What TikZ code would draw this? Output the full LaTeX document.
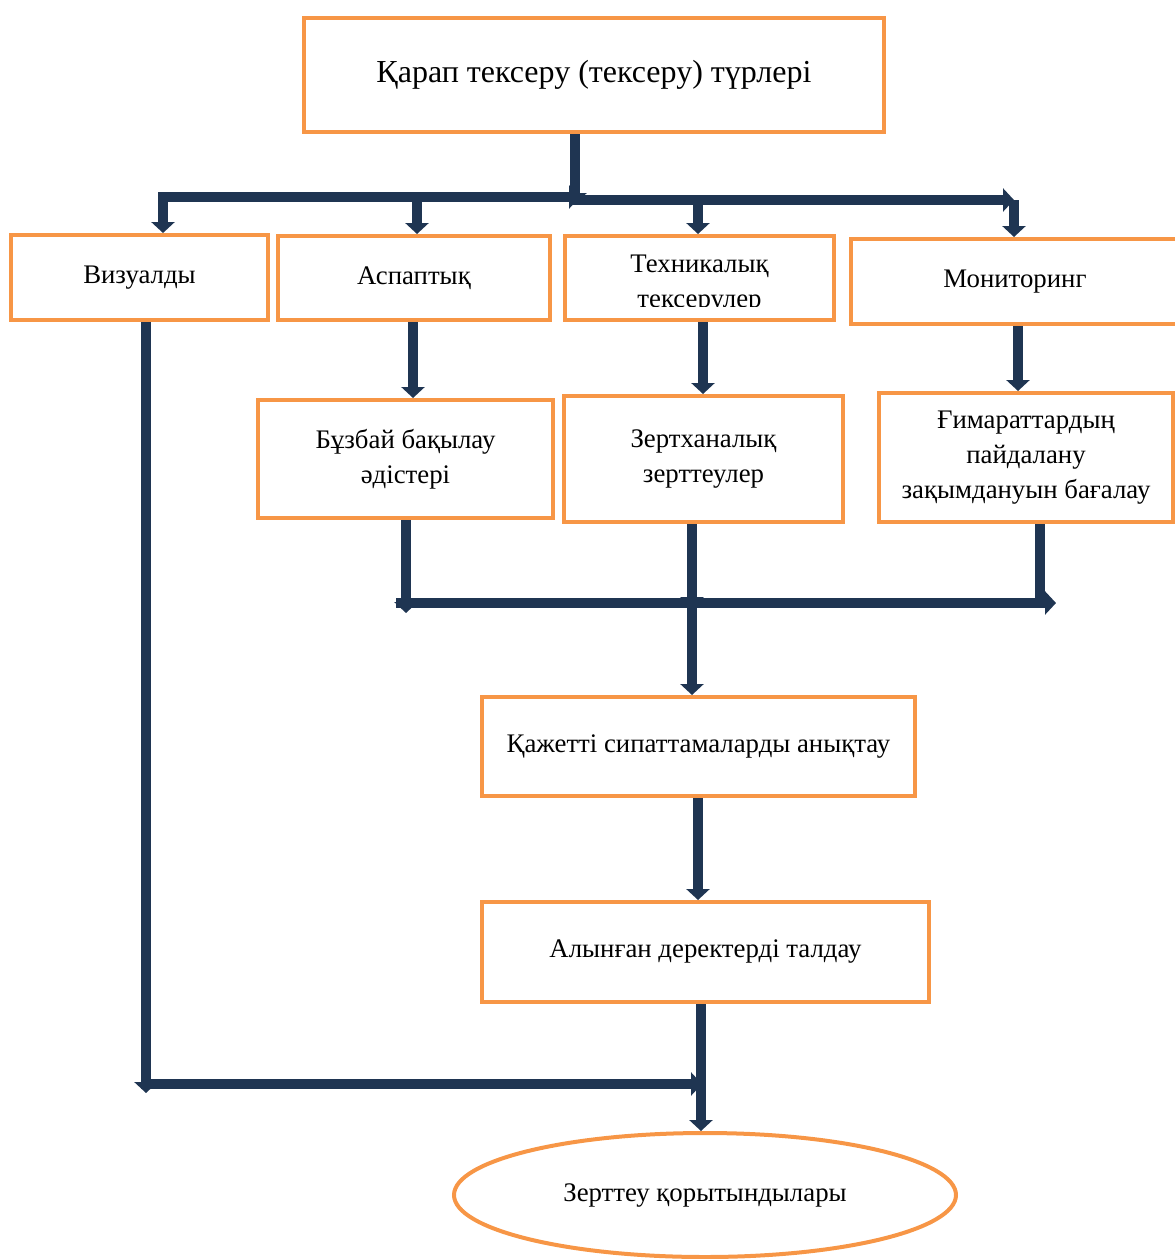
\documentclass[tikz,border=0pt]{standalone}
\usepackage{fontspec}
\setmainfont{Liberation Serif}
\usetikzlibrary{arrows.meta,shapes.geometric,calc}
\definecolor{boxorange}{RGB}{247,150,70}
\definecolor{linkblue}{RGB}{31,53,82}
\tikzset{box/.style = {draw=boxorange, line width=4pt, inner sep=0pt, align=center,
                       font=\fontsize{26.8}{35}\selectfont},
         link/.style = {draw=linkblue, line width=10pt,
                        -{Triangle[width=23pt,length=11pt]}},
         bar/.style = {draw=linkblue, line width=10pt}}

\begin{document}
\begin{tikzpicture}[x=1pt,y=-1pt]
\useasboundingbox (0,0) rectangle (1175,1259);
% boxes
\node[box, minimum width=580pt, minimum height=114pt, font=\fontsize{32}{38}\selectfont] (top) at (594,75) {Қарап тексеру (тексеру) түрлері};
\node[box, minimum width=257pt, minimum height=85pt] (viz) at (139.5,277.5) {Визуалды};
\node[box, minimum width=272pt, minimum height=84pt] (asp) at (414,278) {Аспаптық};
\node[box, minimum width=269pt, minimum height=84pt] (tech) at (699.5,278) {};
\begin{scope}
\clip (565,236) rectangle (834,306);
\node[box, draw=none] (techtext) at (699.5,284) {Техникалық\\тексерулер};
\end{scope}
\node[box, minimum width=328pt, minimum height=85pt] (mon) at (1015,281.5) {Мониторинг};
\node[box, minimum width=295pt, minimum height=118pt] (buz) at (405.5,459) {Бұзбай бақылау\\әдістері};
\node[box, minimum width=279pt, minimum height=126pt] (zert) at (703.5,459) {Зертханалық\\зерттеулер};
\node[box, minimum width=294pt, minimum height=129pt] (gim) at (1026,457.5) {Ғимараттардың\\пайдалану\\зақымдануын бағалау};
\node[box, minimum width=433pt, minimum height=99pt] (kaj) at (698.5,746.5) {Қажетті сипаттамаларды анықтау};
\node[box, minimum width=447pt, minimum height=100pt] (alyn) at (705.5,952) {Алынған деректерді талдау};
\node[box, ellipse, minimum width=502pt, minimum height=124pt] (res) at (705,1195) {Зерттеу қорытындылары};

% junction points
\coordinate (t1) at (575,204);
\coordinate (lb) at (158,197);
\coordinate (lr) at (580,197);
\coordinate (rb) at (570,200);
\coordinate (rr) at (1014,200);
\coordinate (v1) at (163,192);
\coordinate (a1) at (417,197);
\coordinate (m1) at (698,200);
\coordinate (vd) at (146,1093);
\coordinate (hb) at (141,1084);
\coordinate (hr) at (702,1084);
\coordinate (mb) at (396,603);
\coordinate (mr) at (1056,603);
\coordinate (b1) at (406,613);
\coordinate (z1) at (692,608);
\coordinate (g1) at (1040,603);

% top level
\draw[link] (top.south -| t1) -- (t1);
\draw[link] (lb) -- (lr);
\draw[link] (rb) -- (rr);
\draw[link] (v1) -- (v1 |- viz.north);
\draw[link] (a1) -- (a1 |- asp.north);
\draw[link] (m1) -- (m1 |- tech.north);
\draw[link] (rr) -- (rr |- mon.north);

% second level
\draw[link] (asp.south -| 413,0) -- (buz.north -| 413,0);
\draw[link] (tech.south -| 703,0) -- (zert.north -| 703,0);
\draw[link] (mon.south -| 1018,0) -- (gim.north -| 1018,0);

% collecting bar
\draw[link] (buz.south -| b1) -- (b1);
\draw[link] (zert.south -| z1) -- (z1);
\draw[bar] (gim.south -| g1) -- (g1);
\draw[link] (mb) -- (mr);
\draw[link] (z1) -- (z1 |- kaj.north);
\draw[link] (kaj.south -| 698,0) -- (alyn.north -| 698,0);

% bottom
\draw[link] (viz.south -| vd) -- (vd);
\draw[link] (hb) -- (hr);
\draw[link] (alyn.south -| 701,0) -- (res.north -| 701,0);
\end{tikzpicture}
\end{document}
